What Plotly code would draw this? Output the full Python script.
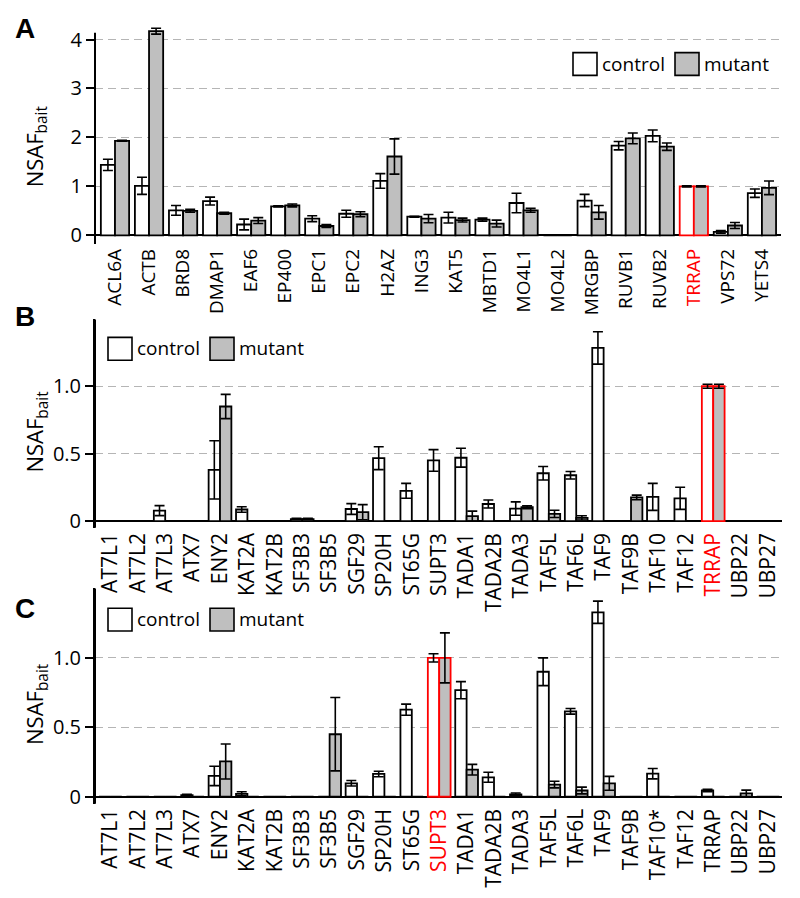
import plotly.graph_objects as go

# ---------------- data ----------------
genes_a = ["ACL6A", "ACTB", "BRD8", "DMAP1", "EAF6", "EP400", "EPC1", "EPC2", "H2AZ", "ING3",
           "KAT5", "MBTD1", "MO4L1", "MO4L2", "MRGBP", "RUVB1", "RUVB2", "TRRAP", "VPS72", "YETS4"]
ctrl_a = [1.44, 1.01, 0.51, 0.70, 0.22, 0.59, 0.34, 0.44, 1.11, 0.38,
          0.36, 0.32, 0.66, 0.0, 0.71, 1.83, 2.03, 1.00, 0.07, 0.86]
ctrl_a_err = [0.115, 0.175, 0.10, 0.08, 0.11, 0.01, 0.06, 0.07, 0.15, 0.01,
              0.11, 0.03, 0.20, 0.0, 0.125, 0.085, 0.12, 0.01, 0.025, 0.085]
mut_a = [1.93, 4.17, 0.50, 0.45, 0.30, 0.61, 0.19, 0.43, 1.61, 0.34,
         0.31, 0.24, 0.51, 0.0, 0.47, 1.98, 1.81, 1.00, 0.20, 0.97]
mut_a_err = [0.01, 0.06, 0.03, 0.02, 0.06, 0.03, 0.03, 0.05, 0.36, 0.085,
             0.04, 0.07, 0.04, 0.0, 0.14, 0.11, 0.075, 0.01, 0.06, 0.14]

genes_b = ["AT7L1", "AT7L2", "AT7L3", "ATX7", "ENY2", "KAT2A", "KAT2B", "SF3B3", "SF3B5", "SGF29",
           "SP20H", "ST65G", "SUPT3", "TADA1", "TADA2B", "TADA3", "TAF5L", "TAF6L", "TAF9", "TAF9B",
           "TAF10", "TAF12", "TRRAP", "UBP22", "UBP27"]
ctrl_b = [0, 0, 0.078, 0, 0.38, 0.086, 0, 0.015, 0, 0.09,
          0.467, 0.225, 0.45, 0.47, 0.127, 0.093, 0.355, 0.34, 1.284, 0,
          0.18, 0.169, 1.0, 0, 0]
ctrl_b_err = [0, 0, 0.037, 0, 0.216, 0.02, 0, 0.005, 0, 0.04,
              0.085, 0.055, 0.08, 0.07, 0.03, 0.05, 0.05, 0.028, 0.12, 0,
              0.10, 0.082, 0.015, 0, 0]
mut_b = [0, 0, 0, 0, 0.85, 0, 0, 0.015, 0, 0.066,
         0, 0, 0, 0.037, 0, 0.103, 0.054, 0.024, 0, 0.176,
         0, 0, 1.0, 0, 0]
mut_b_err = [0, 0, 0, 0, 0.09, 0, 0, 0.005, 0, 0.056,
             0, 0, 0, 0.037, 0, 0.01, 0.027, 0.016, 0, 0.017,
             0, 0, 0.015, 0, 0]

genes_c = ["AT7L1", "AT7L2", "AT7L3", "ATX7", "ENY2", "KAT2A", "KAT2B", "SF3B3", "SF3B5", "SGF29",
           "SP20H", "ST65G", "SUPT3", "TADA1", "TADA2B", "TADA3", "TAF5L", "TAF6L", "TAF9", "TAF9B",
           "TAF10*", "TAF12", "TRRAP", "UBP22", "UBP27"]
ctrl_c = [0, 0, 0, 0.012, 0.15, 0.021, 0, 0, 0, 0.097,
          0.164, 0.627, 1.0, 0.767, 0.14, 0.017, 0.90, 0.615, 1.328, 0,
          0.166, 0, 0.045, 0, 0]
ctrl_c_err = [0, 0, 0, 0.005, 0.07, 0.015, 0, 0, 0, 0.02,
              0.02, 0.04, 0.03, 0.062, 0.036, 0.01, 0.10, 0.02, 0.08, 0,
              0.037, 0, 0.008, 0, 0]
mut_c = [0, 0, 0, 0, 0.254, 0, 0, 0, 0.45, 0,
         0, 0, 1.0, 0.195, 0, 0, 0.088, 0.045, 0.097, 0,
         0, 0, 0, 0.024, 0]
mut_c_err = [0, 0, 0, 0, 0.126, 0, 0, 0, 0.264, 0,
             0, 0, 0.18, 0.038, 0, 0, 0.024, 0.024, 0.05, 0,
             0, 0, 0, 0.024, 0]

# ---------------- layout helpers ----------------
W, H = 800, 898
FONT = "Open Sans"
GRAY = "#bfbfbf"


def fx(p):
    return p / W


def fy(p):
    return 1 - p / H


panels = [
    dict(letter="A", genes=genes_a, ctrl=ctrl_a, ce=ctrl_a_err, mut=mut_a, me=mut_a_err,
         hl="TRRAP", xdom=(95, 781), ydom=(26, 245), xr=[-0.587, 19.56], yr=[-0.18, 4.26],
         axis_top_px=32, tv=[0, 1, 2, 3, 4], tt=["0", "1", "2", "3", "4"], letter_y=28,
         leg=(573, 52), lab=19, showline=False),
    dict(letter="B", genes=genes_b, ctrl=ctrl_b, ce=ctrl_b_err, mut=mut_b, me=mut_b_err,
         hl="TRRAP", xdom=(95, 782), ydom=(321, 531), xr=[-0.562, 24.51], yr=[-0.05, 1.495],
         axis_top_px=321, tv=[0, 0.5, 1.0], tt=["0", "0.5", "1.0"], letter_y=318,
         leg=(108, 339), lab=21, showline=True),
    dict(letter="C", genes=genes_c, ctrl=ctrl_c, ce=ctrl_c_err, mut=mut_c, me=mut_c_err,
         hl="SUPT3", xdom=(95, 782), ydom=(592, 809), xr=[-0.562, 24.51], yr=[-0.05, 1.5],
         axis_top_px=592, tv=[0, 0.5, 1.0], tt=["0", "0.5", "1.0"], letter_y=612,
         leg=(108, 612), lab=21, showline=True),
]

fig = go.Figure()
layout = dict(width=W, height=H, autosize=False,
              margin=dict(l=0, r=0, t=0, b=0),
              paper_bgcolor="white", plot_bgcolor="white",
              barmode="group", bargap=0.17, bargroupgap=0,
              showlegend=False,
              font=dict(family=FONT, color="black"))
annotations = []
shapes = []

for i, p in enumerate(panels):
    sfx = "" if i == 0 else str(i + 1)
    xa, ya = "x" + sfx, "y" + sfx
    line_cols = ["red" if g == p["hl"] else "black" for g in p["genes"]]
    for vals, errs, fill in ((p["ctrl"], p["ce"], "white"), (p["mut"], p["me"], GRAY)):
        fig.add_trace(go.Bar(
            x=p["genes"], y=vals, xaxis=xa, yaxis=ya,
            marker=dict(color=fill, line=dict(color=line_cols, width=1.8)),
            error_y=dict(type="data", array=errs, color="black", thickness=1.6, width=5),
            hoverinfo="x+y",
        ))
    ticktext = [('<span style="color:red">%s</span>' % g) if g == p["hl"] else g for g in p["genes"]]
    layout["xaxis" + sfx] = dict(
        domain=[fx(p["xdom"][0]), fx(p["xdom"][1])], anchor=ya, type="category",
        range=p["xr"], tickangle=-90, tickmode="array", tickvals=p["genes"], ticktext=ticktext,
        tickfont=dict(size=p["lab"], family=FONT, color="black"), showline=False, showgrid=False,
        zeroline=False, ticks="", fixedrange=True)
    layout["yaxis" + sfx] = dict(
        domain=[fy(p["ydom"][1]), fy(p["ydom"][0])], anchor=xa, range=p["yr"],
        tickmode="array", tickvals=p["tv"], ticktext=p["tt"],
        ticks="outside", ticklen=8, tickwidth=1.5, tickcolor="black",
        tickfont=dict(size=20, family=FONT, color="black"),
        showline=p["showline"], linecolor="black", linewidth=2,
        showgrid=True, gridcolor="#b5b5b5", gridwidth=1.3, griddash="8px,5px",
        zeroline=True, zerolinecolor="black", zerolinewidth=2, fixedrange=True)

    # vertical axis line (from the bottom of the panel up to the axis top)
    shapes.append(dict(type="line", xref="paper", yref="paper",
                       x0=fx(p["xdom"][0]), x1=fx(p["xdom"][0]),
                       y0=fy(p["ydom"][1]), y1=fy(p["axis_top_px"]),
                       line=dict(color="black", width=2)))

    # panel letter
    annotations.append(dict(text="<b>%s</b>" % p["letter"], xref="paper", yref="paper",
                            x=fx(25), y=fy(p["letter_y"]), xanchor="center", yanchor="middle",
                            showarrow=False, font=dict(size=28, family="Liberation Sans", color="black")))
    # y-axis title
    yc = (p["axis_top_px"] + p["ydom"][1]) / 2 + 8
    annotations.append(dict(text="NSAF<sub>bait</sub>", xref="paper", yref="paper",
                            x=fx(36), y=fy(yc), xanchor="center", yanchor="middle", textangle=-90,
                            showarrow=False, font=dict(size=22, family=FONT, color="black")))
    # legend (boxes + labels)
    lx, ly = p["leg"]
    for dx, fill, label in ((0, "white", "control"), (102, GRAY, "mutant")):
        shapes.append(dict(type="rect", xref="paper", yref="paper",
                           x0=fx(lx + dx), x1=fx(lx + dx + 24), y0=fy(ly + 23), y1=fy(ly),
                           fillcolor=fill, line=dict(color="black", width=1.6)))
        annotations.append(dict(text=label, xref="paper", yref="paper",
                                x=fx(lx + dx + 27), y=fy(ly + 11), xanchor="left", yanchor="middle",
                                showarrow=False, font=dict(size=19, family=FONT, color="black")))

layout["annotations"] = annotations
layout["shapes"] = shapes
fig.update_layout(**layout)
fig.write_html("out.html",
               config={"displayModeBar": False},
               post_script="document.body.style.margin='0px';document.body.style.overflow='hidden';")
